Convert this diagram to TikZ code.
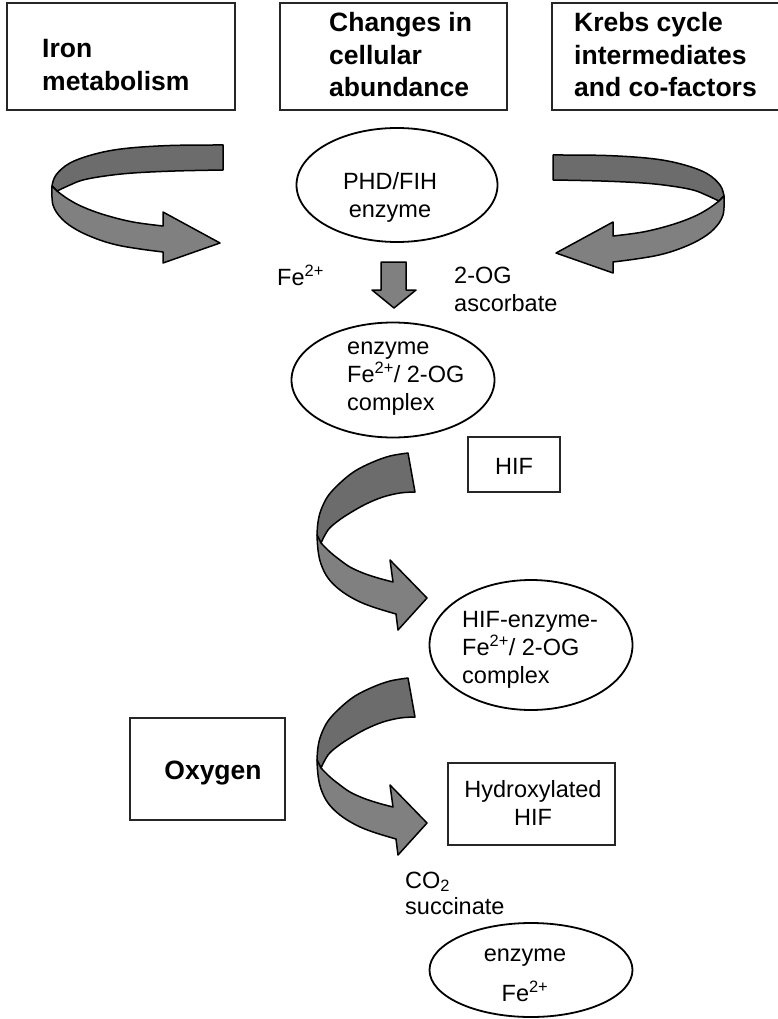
\documentclass[tikz,border=0pt]{standalone}
\usepackage{fontspec}
\setmainfont{Liberation Sans}
\usetikzlibrary{shapes.geometric}
\definecolor{bandtop}{RGB}{108,108,108}
\definecolor{bandlow}{RGB}{128,128,128}
\newcommand\lbl{\fontsize{23.5}{28}\selectfont}
\newcommand\hdr{\fontsize{26.5}{32.5}\selectfont\bfseries}
\tikzset{
  hbox/.style={draw=black!85, line width=1.8pt, rectangle, inner sep=0pt},
  oval/.style={draw=black, line width=1.8pt, ellipse, inner sep=0pt},
  txt/.style={inner sep=0pt, font=\lbl},
  htxt/.style={inner sep=0pt, font=\hdr, align=left, anchor=west},
  topband/.style={fill=bandtop, draw=black, line width=1.5pt, line join=round},
  lowband/.style={fill=bandlow, draw=black, line width=1.5pt, line join=round},
}
\begin{document}
\begin{tikzpicture}[x=1pt,y=-1pt]
\useasboundingbox (0,0) rectangle (777,1019);
\fill[white] (0,0) rectangle (777,1019);

% header boxes
\node[hbox, minimum width=228pt, minimum height=107pt] (iron) at (121,56.5) {};
\node[hbox, minimum width=227pt, minimum height=107pt] (abund) at (393.5,56.5) {};
\node[hbox, minimum width=230pt, minimum height=107pt] (krebs) at (667,56.5) {};
\node[htxt] (ironT) at (42,65) {Iron\\metabolism};
\node[htxt] (abundT) at (329,55) {Changes in\\cellular\\abundance};
\node[htxt] (krebsT) at (574,55) {Krebs cycle\\intermediates\\and co-factors};

% left curved arrow
\filldraw[topband] plot[smooth, tension=0.6] coordinates {(223,145) (170,145.5) (125,148.5) (95,154) (70,163) (56,175) (52,186)}
  -- plot[smooth, tension=0.6] coordinates {(57,191) (70,185) (83,180) (105,176) (133,173) (175,171) (223,170)} -- cycle;
\filldraw[lowband] plot[smooth, tension=0.6] coordinates {(52,186) (53,205) (62,219) (77,230) (97,239) (117,245) (140,249) (163,252)}
  -- (163,263) -- (220,243) -- (163,212)
  -- plot[smooth, tension=0.6] coordinates {(163,226) (133,222) (105,215) (83,207) (68,199) (57,191)} -- cycle;

% right curved arrow (mirror)
\begin{scope}[shift={(776,10)}, xscale=-1]
\filldraw[topband] plot[smooth, tension=0.6] coordinates {(223,145) (170,145.5) (125,148.5) (95,154) (70,163) (56,175) (52,186)}
  -- plot[smooth, tension=0.6] coordinates {(57,191) (70,185) (83,180) (105,176) (133,173) (175,171) (223,170)} -- cycle;
\filldraw[lowband] plot[smooth, tension=0.6] coordinates {(52,186) (53,205) (62,219) (77,230) (97,239) (117,245) (140,249) (163,252)}
  -- (163,263) -- (220,243) -- (163,212)
  -- plot[smooth, tension=0.6] coordinates {(163,226) (133,222) (105,215) (83,207) (68,199) (57,191)} -- cycle;
\end{scope}

% PHD/FIH enzyme
\node[oval, minimum width=201pt, minimum height=114pt] (e1) at (397,185) {};
\node[txt, align=center] (e1T) at (390,197) {PHD/FIH\\enzyme};

\node[txt, anchor=west] (fe) at (277,275) {Fe\textsuperscript{2+}};
\node[txt, anchor=west, align=left] (og) at (454,289) {2-OG\\ascorbate};

% small down arrow
\filldraw[lowband] (381,262) -- (406,262) -- (406,290) -- (416,290) -- (394,308) -- (372,290) -- (381,290) -- cycle;

% enzyme complex
\node[oval, minimum width=203pt, minimum height=115pt] (e2) at (393,380) {};
\node[txt, anchor=west, align=left] (e2T) at (347,379) {enzyme\\Fe\textsuperscript{2+}/ 2-OG\\complex};

% HIF
\node[hbox, minimum width=92pt, minimum height=55pt] (hif) at (514,464.5) {};
\node[txt] (hifT) at (514,466) {HIF};

% curved arrow C
\begin{scope}
\filldraw[topband] plot[smooth, tension=0.6] coordinates {(408,453) (390,456) (373,462) (355,471) (340,483) (328,496) (321,510) (318,522) (317,535)}
  -- plot[smooth, tension=0.6] coordinates {(321,543) (328,530) (338,521) (350,513) (366,504) (383,497) (400,493) (415,492)} -- cycle;
\filldraw[lowband] plot[smooth, tension=0.6] coordinates {(317,535) (318,550) (321,564) (328,578) (340,590) (356,600) (373,607) (396,614)}
  -- (398,630) -- (427,598) -- (390,560)
  -- plot[smooth, tension=0.6] coordinates {(393,582) (378,578) (363,573) (350,567) (340,560) (330,552) (321,543)} -- cycle;
\end{scope}

% HIF-enzyme complex
\node[oval, minimum width=203pt, minimum height=130pt] (e3) at (531,645) {};
\node[txt, anchor=west, align=left] (e3T) at (462,650) {HIF-enzyme-\\Fe\textsuperscript{2+}/ 2-OG\\complex};

% curved arrow D
\begin{scope}[shift={(0,225)}]
\filldraw[topband] plot[smooth, tension=0.6] coordinates {(408,453) (390,456) (373,462) (355,471) (340,483) (328,496) (321,510) (318,522) (317,535)}
  -- plot[smooth, tension=0.6] coordinates {(321,543) (328,530) (338,521) (350,513) (366,504) (383,497) (400,493) (415,492)} -- cycle;
\filldraw[lowband] plot[smooth, tension=0.6] coordinates {(317,535) (318,550) (321,564) (328,578) (340,590) (356,600) (373,607) (396,614)}
  -- (398,630) -- (427,598) -- (390,560)
  -- plot[smooth, tension=0.6] coordinates {(393,582) (378,578) (363,573) (350,567) (340,560) (330,552) (321,543)} -- cycle;
\end{scope}

% Oxygen
\node[hbox, minimum width=155pt, minimum height=102pt] (oxy) at (207.5,769) {};
\node[inner sep=0pt, font=\hdr] (oxyT) at (213,773) {Oxygen};

% Hydroxylated HIF
\node[hbox, minimum width=167pt, minimum height=82pt] (hhif) at (531.5,804) {};
\node[txt, align=center] (hhifT) at (533,803) {Hydroxylated\\HIF};

% CO2 succinate
\node[txt, anchor=west, align=left] (co2) at (405,893) {CO\textsubscript{2}\\[-2pt]succinate};

% enzyme Fe2+
\node[oval, minimum width=203pt, minimum height=94pt] (e4) at (531,970) {};
\node[txt, align=center] (e4T) at (525,975) {enzyme\\[12pt]Fe\textsuperscript{2+}};
\end{tikzpicture}
\end{document}
